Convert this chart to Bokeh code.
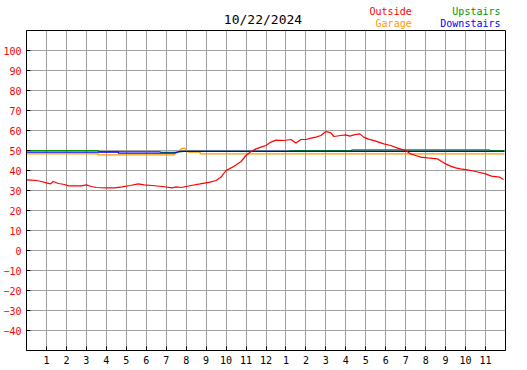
from bokeh.plotting import figure
from bokeh.models import FixedTicker, Range1d, ColumnDataSource
from bokeh.layouts import column
from bokeh.core.properties import value
from bokeh.embed import file_html
from bokeh.resources import INLINE

# ---- data ----
title_text = "10/22/2024"
hour_ticks = list(range(1, 24))
hour_labels = ["1", "2", "3", "4", "5", "6", "7", "8", "9", "10", "11", "12",
               "1", "2", "3", "4", "5", "6", "7", "8", "9", "10", "11"]
temp_ticks = [-40, -30, -20, -10, 0, 10, 20, 30, 40, 50, 60, 70, 80, 90, 100]

outside_t = [0, 0.25, 0.5, 0.75, 1.0, 1.2, 1.33, 1.6, 1.9, 2.1, 2.75, 3.0, 3.25, 3.5, 4.0,
             4.4, 4.8, 5.2, 5.6, 5.9, 6.3, 6.8, 7.3, 7.5, 7.75, 8.0, 8.25, 8.7, 9.2, 9.5,
             9.75, 10.0, 10.25, 10.5, 10.75, 11.0, 11.25, 11.5, 11.75, 12.0, 12.25, 12.5,
             12.9, 13.25, 13.5, 13.75, 14.0, 14.25, 14.5, 14.75, 15.0, 15.25, 15.4, 15.75,
             16.0, 16.2, 16.4, 16.7, 16.9, 17.1, 17.5, 17.9, 18.25, 18.6, 19.0, 19.25, 19.5,
             19.75, 20.1, 20.6, 20.8, 21.0, 21.25, 21.5, 21.75, 22.1, 22.5, 23.0, 23.3,
             23.7, 23.9]
outside_v = [35.3, 35.2, 35.0, 34.5, 33.8, 33.3, 34.5, 33.5, 33.0, 32.3, 32.3, 32.8, 32.0,
             31.5, 31.3, 31.3, 31.8, 32.5, 33.3, 32.8, 32.5, 32.0, 31.3, 31.8, 31.5, 32.0,
             32.5, 33.3, 34.2, 35.0, 36.7, 40.0, 41.3, 42.8, 44.5, 47.5, 49.5, 50.8, 51.7,
             52.5, 54.2, 55.2, 55.0, 55.5, 53.8, 55.5, 55.5, 56.2, 56.7, 57.5, 59.5, 58.8,
             57.0, 57.5, 57.8, 57.2, 57.8, 58.3, 56.7, 55.8, 54.7, 53.3, 52.5, 51.2, 50.0,
             48.3, 47.5, 46.7, 46.3, 45.8, 44.5, 43.3, 42.2, 41.3, 40.8, 40.3, 39.5, 38.3,
             37.2, 36.7, 35.5]

upstairs_t = [0, 3.6, 3.6, 6.7, 6.7, 7.4, 7.9, 13.2, 13.2, 16.3, 16.3, 23.2, 23.2, 23.95]
upstairs_v = [50.0, 50.0, 49.5, 49.5, 49.1, 49.1, 49.6, 49.6, 50.0, 50.0, 50.3, 50.3, 50.0, 50.0]

downstairs_t = [0, 4.6, 4.6, 7.4, 7.7, 23.95]
downstairs_v = [49.2, 49.2, 48.7, 48.7, 49.6, 49.6]

garage_t = [0, 3.6, 3.6, 7.4, 7.75, 7.9, 8.1, 8.7, 8.7, 23.95]
garage_v = [48.3, 48.3, 47.8, 47.8, 50.8, 51.3, 49.2, 49.2, 48.3, 48.3]

series_names = ["Outside", "Garage", "Upstairs", "Downstairs"]
series_colors = ["#ff0000", "#ff9900", "#009900", "#0000ff"]

MONO = "DejaVu Sans Mono"
W = 527
H = 370
HEAD_H = 30
LEFT, RIGHT = 25, 22

# ---- header: date title and legend texts (page-pixel coordinates, y downward) ----
head = figure(width=W, height=HEAD_H, output_backend="svg", toolbar_location=None,
              x_range=Range1d(LEFT, W - RIGHT), y_range=Range1d(HEAD_H, 0),
              min_border_left=LEFT, min_border_right=RIGHT,
              min_border_top=0, min_border_bottom=0,
              x_axis_type=None, y_axis_type=None)
head.title = None
head.outline_line_color = None
head.background_fill_color = "white"
head.xgrid.visible = False
head.ygrid.visible = False
head.text(x=[262], y=[11], text=[title_text], text_font=value(MONO),
          text_font_size="13px", text_color="black", text_align="center",
          text_baseline="top")
leg_src = ColumnDataSource(dict(x=[411, 411, 500, 500], y=[5, 17, 5, 17],
                                name=series_names, color=series_colors))
head.text(x="x", y="y", text="name", text_color="color", source=leg_src,
          text_font=value(MONO), text_font_size="10px", text_align="right",
          text_baseline="top")

# ---- main chart ----
p = figure(width=W, height=H - HEAD_H, output_backend="svg", toolbar_location=None,
           x_range=Range1d(0, 24), y_range=Range1d(-50, 110),
           min_border_left=LEFT, min_border_right=RIGHT, min_border_top=0,
           min_border_bottom=20)
p.title = None

p.outline_line_color = "black"
p.outline_line_width = 1
p.background_fill_color = "white"
p.border_fill_color = "white"

p.xaxis.ticker = FixedTicker(ticks=hour_ticks)
p.xaxis.major_label_overrides = {t: l for t, l in zip(hour_ticks, hour_labels)}
p.yaxis.ticker = FixedTicker(ticks=temp_ticks)
for ax in (p.xaxis[0], p.yaxis[0]):
    ax.axis_line_color = "black"
    ax.axis_line_width = 1
    ax.major_tick_in = 4
    ax.major_tick_out = 0
    ax.major_tick_line_color = "black"
    ax.minor_tick_line_color = None
    ax.major_label_text_font = MONO
    ax.major_label_text_font_size = "10px"
    ax.major_label_standoff = 5
p.xaxis.major_label_text_color = "black"
p.yaxis.major_label_text_color = "#ff0000"

p.xgrid.grid_line_color = "#a0a0a0"
p.ygrid.grid_line_color = "#a0a0a0"
p.xgrid.grid_line_width = 1
p.ygrid.grid_line_width = 1

p.line(upstairs_t, upstairs_v, line_color=series_colors[2], line_width=1.2)
p.line(garage_t, garage_v, line_color=series_colors[1], line_width=1.2)
p.line(downstairs_t, downstairs_v, line_color=series_colors[3], line_width=1.2)
p.line(outside_t, outside_v, line_color=series_colors[0], line_width=1.2)

layout = column(head, p, spacing=0)

html = file_html(layout, INLINE)
html = html.replace("<head>", "<head><style>html,body{margin:0;padding:0;overflow:hidden}</style>", 1)
open("out.html", "w").write(html)
